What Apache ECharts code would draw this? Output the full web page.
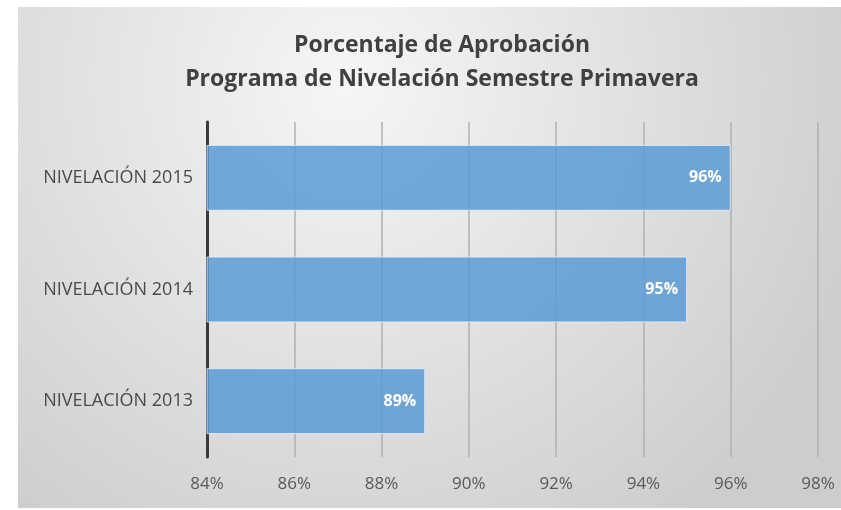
<!DOCTYPE html>
<html><head><meta charset="utf-8">
<script src="https://cdn.jsdelivr.net/npm/echarts@6/dist/echarts.min.js"></script>
<style>html,body{margin:0;padding:0;background:#fff}#c{width:841px;height:510px}</style>
</head><body><div id="c"></div>
<script>
const categories = ['NIVELACIÓN 2013', 'NIVELACIÓN 2014', 'NIVELACIÓN 2015'];
const values = [89, 95, 96];
const xTicks = [84, 86, 88, 90, 92, 94, 96, 98];
const titleLines = ['Porcentaje de Aprobación', 'Programa de Nivelación Semestre Primavera'];

const chart = echarts.init(document.getElementById('c'));
const font = '"Open Sans",sans-serif';
chart.setOption({
  animation: false,
  graphic: [{
    type: 'rect', z: -10, silent: true,
    shape: {x: 18, y: 7, width: 823, height: 501},
    style: {fill: new echarts.graphic.RadialGradient(0.4, 0.15, 1.1, [
      {offset: 0, color: '#f6f6f6'}, {offset: 1, color: '#cdcdcd'}])}
  }],
  title: {
    text: titleLines.join('\n'),
    left: 437, top: 23, textAlign: 'center',
    textStyle: {fontFamily: font, fontSize: 23, fontWeight: 'bold', color: '#404040', lineHeight: 34}
  },
  grid: {left: 207, right: 23, top: 122, bottom: 53, containLabel: false},
  xAxis: {
    type: 'value', min: xTicks[0], max: xTicks[xTicks.length - 1], interval: 2,
    axisLine: {show: false}, axisTick: {show: false},
    splitLine: {show: true, lineStyle: {color: '#b0b0b0', width: 1.5}},
    axisLabel: {formatter: v => v + '%', margin: 19, color: '#595959', fontSize: 17, fontFamily: font}
  },
  yAxis: {
    type: 'category', data: categories,
    axisLine: {show: true, lineStyle: {color: '#3a3a3a', width: 3}},
    axisTick: {show: false},
    axisLabel: {margin: 14, color: '#4a4a4a', fontSize: 18, fontFamily: font}
  },
  series: [{
    type: 'bar', data: values, barCategoryGap: '41%',
    itemStyle: {color: 'rgba(91,155,213,0.85)', borderColor: 'rgba(230,240,250,0.8)', borderWidth: 1},
    label: {show: true, position: 'insideRight', offset: [-4, 0], formatter: p => p.value + '%',
      color: '#fff', fontWeight: 'bold', fontSize: 16, fontFamily: font}
  }]
});
</script></body></html>
